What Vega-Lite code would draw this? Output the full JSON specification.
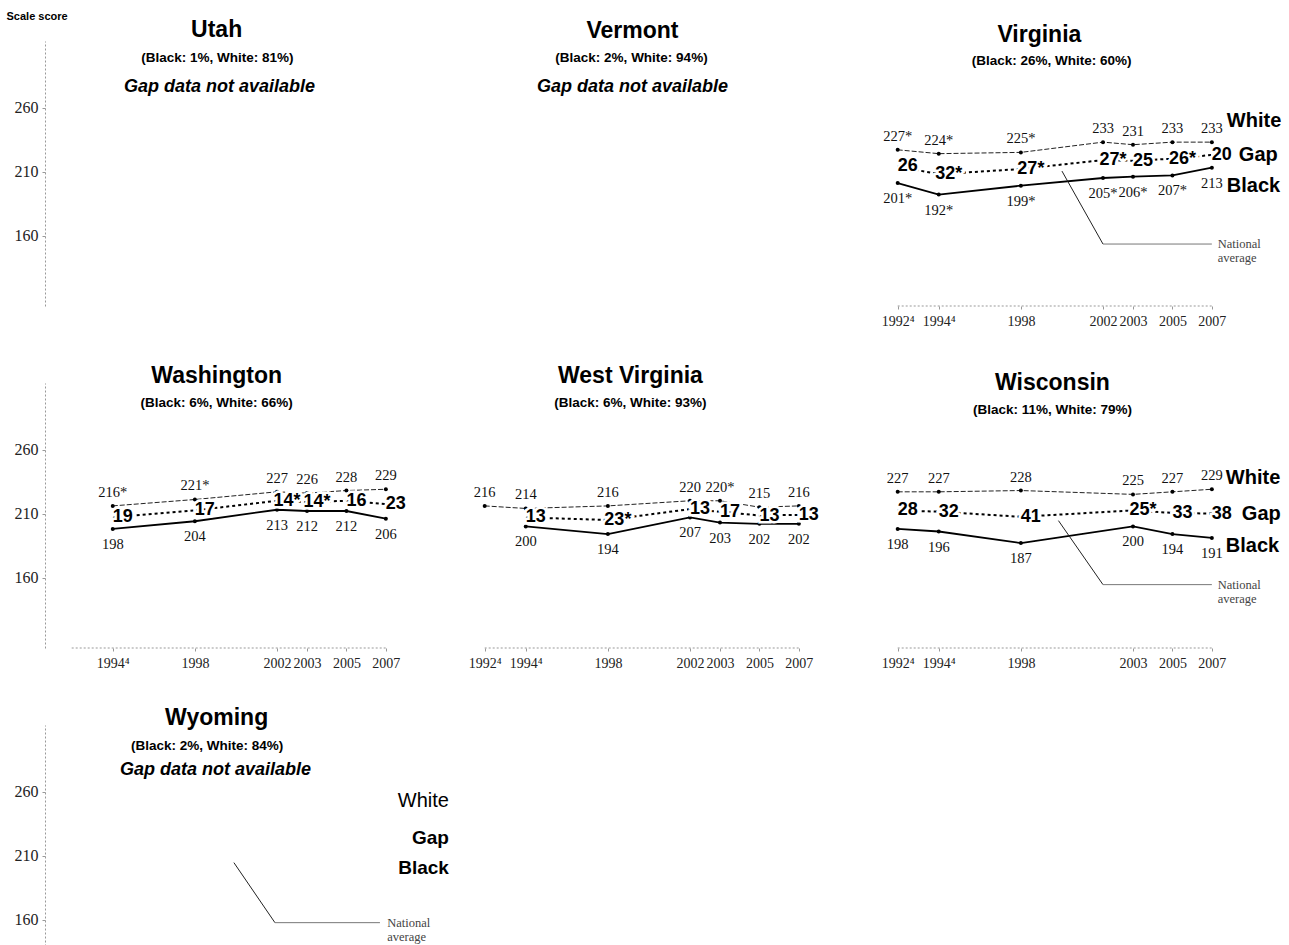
{
  "$schema": "https://vega.github.io/schema/vega-lite/v6.json",
  "padding": {"left": 6, "top": 10, "right": 5, "bottom": 5},
  "background": "white",
  "config": {
    "view": {"stroke": null},
    "font": "Liberation Sans",
    "text": {"font": "Liberation Serif", "fontSize": 14.5, "color": "#111"}
  },
  "datasets": {
    "scores": [
      {"state": "Virginia", "year": 1992, "white": 227, "black": 201, "wl": "227*", "bl": "201*", "gap": "26"},
      {"state": "Virginia", "year": 1994, "white": 224, "black": 192, "wl": "224*", "bl": "192*", "gap": "32*"},
      {"state": "Virginia", "year": 1998, "white": 225, "black": 199, "wl": "225*", "bl": "199*", "gap": "27*"},
      {"state": "Virginia", "year": 2002, "white": 233, "black": 205, "wl": "233", "bl": "205*", "gap": "27*"},
      {"state": "Virginia", "year": 2003, "white": 231, "black": 206, "wl": "231", "bl": "206*", "gap": "25"},
      {"state": "Virginia", "year": 2005, "white": 233, "black": 207, "wl": "233", "bl": "207*", "gap": "26*"},
      {"state": "Virginia", "year": 2007, "white": 233, "black": 213, "wl": "233", "bl": "213", "gap": "20"},
      {"state": "Washington", "year": 1994, "white": 216, "black": 198, "wl": "216*", "bl": "198", "gap": "19"},
      {"state": "Washington", "year": 1998, "white": 221, "black": 204, "wl": "221*", "bl": "204", "gap": "17"},
      {"state": "Washington", "year": 2002, "white": 227, "black": 213, "wl": "227", "bl": "213", "gap": "14*"},
      {"state": "Washington", "year": 2003, "white": 226, "black": 212, "wl": "226", "bl": "212", "gap": "14*"},
      {"state": "Washington", "year": 2005, "white": 228, "black": 212, "wl": "228", "bl": "212", "gap": "16"},
      {"state": "Washington", "year": 2007, "white": 229, "black": 206, "wl": "229", "bl": "206", "gap": "23"},
      {"state": "West Virginia", "year": 1992, "white": 216, "black": null, "wl": "216", "bl": null, "gap": null},
      {"state": "West Virginia", "year": 1994, "white": 214, "black": 200, "wl": "214", "bl": "200", "gap": "13"},
      {"state": "West Virginia", "year": 1998, "white": 216, "black": 194, "wl": "216", "bl": "194", "gap": "23*"},
      {"state": "West Virginia", "year": 2002, "white": 220, "black": 207, "wl": "220", "bl": "207", "gap": "13"},
      {"state": "West Virginia", "year": 2003, "white": 220, "black": 203, "wl": "220*", "bl": "203", "gap": "17"},
      {"state": "West Virginia", "year": 2005, "white": 215, "black": 202, "wl": "215", "bl": "202", "gap": "13"},
      {"state": "West Virginia", "year": 2007, "white": 216, "black": 202, "wl": "216", "bl": "202", "gap": "13"},
      {"state": "Wisconsin", "year": 1992, "white": 227, "black": 198, "wl": "227", "bl": "198", "gap": "28"},
      {"state": "Wisconsin", "year": 1994, "white": 227, "black": 196, "wl": "227", "bl": "196", "gap": "32"},
      {"state": "Wisconsin", "year": 1998, "white": 228, "black": 187, "wl": "228", "bl": "187", "gap": "41"},
      {"state": "Wisconsin", "year": 2003, "white": 225, "black": 200, "wl": "225", "bl": "200", "gap": "25*"},
      {"state": "Wisconsin", "year": 2005, "white": 227, "black": 194, "wl": "227", "bl": "194", "gap": "33"},
      {"state": "Wisconsin", "year": 2007, "white": 229, "black": 191, "wl": "229", "bl": "191", "gap": "38"}
    ]
  },
  "columns": 3,
  "spacing": {"row": 77, "column": 13},
  "bounds": "flush",
  "concat": [
    {
      "width": 400, "height": 265,
      "resolve": {"axis": {"x": "independent", "y": "independent"}},
      "layer": [
        {"data": {"values": [{}]}, "mark": {"type": "text", "text": "Utah", "font": "Liberation Sans", "fontSize": 23, "fontWeight": "bold", "color": "#000"},
         "encoding": {
           "x": {"datum": 1999.06, "type": "quantitative", "scale": {"domain": [1990.7, 2002, 2003, 2010], "range": [0, 232, 262, 400], "nice": false, "zero": false}, "axis": null},
           "y": {"datum": 320.6, "type": "quantitative", "scale": {"domain": [105, 312], "nice": false, "zero": false},
                 "axis": {"values": [160, 210, 260], "title": "Scale score", "titleAngle": 0, "titleAlign": "left", "titleBaseline": "middle", "titleX": -39, "titleY": -25, "titleFont": "Liberation Sans", "titleFontSize": 11, "titleFontWeight": "bold", "titleColor": "#000", "grid": false, "domain": true, "domainColor": "#999", "domainDash": [2, 2], "domainWidth": 1, "ticks": true, "tickSize": 3, "tickColor": "#999", "labelFont": "Liberation Serif", "labelFontSize": 16, "labelColor": "#222", "labelPadding": 4}}}},
        {"data": {"values": [{}]}, "mark": {"type": "text", "text": "(Black: 1%, White: 81%)", "font": "Liberation Sans", "fontSize": 13.5, "fontWeight": "bold", "color": "#000"},
         "encoding": {"x": {"datum": 1999.1, "type": "quantitative", "axis": null}, "y": {"datum": 298.7, "type": "quantitative", "axis": null}}},
        {"data": {"values": [{}]}, "mark": {"type": "text", "text": "Gap data not available", "font": "Liberation Sans", "fontSize": 18, "fontWeight": "bold", "fontStyle": "italic", "color": "#000"},
         "encoding": {"x": {"datum": 1999.2, "type": "quantitative", "axis": null}, "y": {"datum": 276, "type": "quantitative", "axis": null}}}
      ]
    },
    {
      "width": 400, "height": 265,
      "resolve": {"axis": {"x": "independent", "y": "independent"}},
      "layer": [
        {"data": {"values": [{}]}, "mark": {"type": "text", "text": "Vermont", "font": "Liberation Sans", "fontSize": 23, "fontWeight": "bold", "color": "#000"},
         "encoding": {
           "x": {"datum": 1999.2, "type": "quantitative", "scale": {"domain": [1990.7, 2002, 2003, 2010], "range": [0, 232, 262, 400], "nice": false, "zero": false}, "axis": null},
           "y": {"datum": 320, "type": "quantitative", "scale": {"domain": [105, 312], "nice": false, "zero": false}, "axis": null}}},
        {"data": {"values": [{}]}, "mark": {"type": "text", "text": "(Black: 2%, White: 94%)", "font": "Liberation Sans", "fontSize": 13.5, "fontWeight": "bold", "color": "#000"},
         "encoding": {"x": {"datum": 1999.15, "type": "quantitative", "axis": null}, "y": {"datum": 298.7, "type": "quantitative", "axis": null}}},
        {"data": {"values": [{}]}, "mark": {"type": "text", "text": "Gap data not available", "font": "Liberation Sans", "fontSize": 18, "fontWeight": "bold", "fontStyle": "italic", "color": "#000"},
         "encoding": {"x": {"datum": 1999.2, "type": "quantitative", "axis": null}, "y": {"datum": 276, "type": "quantitative", "axis": null}}}
      ]
    },
    {
      "width": 400, "height": 265,
      "resolve": {"axis": {"x": "independent", "y": "independent"}},
      "layer": [
        {"data": {"values": [{}]}, "mark": {"type": "rule", "color": "#999", "strokeDash": [2, 2], "strokeWidth": 1},
         "encoding": {
           "x": {"datum": 1992, "type": "quantitative", "scale": {"domain": [1990.7, 2002, 2003, 2010], "range": [0, 232, 262, 400], "nice": false, "zero": false},
                 "axis": {"values": [1992, 1994, 1998, 2002, 2003, 2005, 2007], "format": "d", "title": null, "grid": false, "domain": false, "ticks": true, "tickSize": 3, "tickColor": "#999", "labelFont": "Liberation Serif", "labelFontSize": 14, "labelColor": "#222", "labelPadding": 5, "labelOverlap": false, "labelFlush": false, "labelExpr": "datum.value == 1992 ? '1992⁴' : datum.value == 1994 ? '1994⁴' : datum.label"}},
           "x2": {"datum": 2007},
           "y": {"datum": 105, "type": "quantitative", "scale": {"domain": [105, 312], "nice": false, "zero": false}, "axis": null}}},
        {"data": {"values": [{}]}, "mark": {"type": "text", "text": "Virginia", "font": "Liberation Sans", "fontSize": 23, "fontWeight": "bold", "color": "#000"},
         "encoding": {"x": {"datum": 1998.9, "type": "quantitative", "axis": null}, "y": {"datum": 316.7, "type": "quantitative", "axis": null}}},
        {"data": {"values": [{}]}, "mark": {"type": "text", "text": "(Black: 26%, White: 60%)", "font": "Liberation Sans", "fontSize": 13.5, "fontWeight": "bold", "color": "#000"},
         "encoding": {"x": {"datum": 1999.5, "type": "quantitative", "axis": null}, "y": {"datum": 296, "type": "quantitative", "axis": null}}},
        {"data": {"name": "scores"}, "transform": [{"filter": "datum.state == 'Virginia'"}],
         "mark": {"type": "line", "color": "#222", "strokeWidth": 1, "strokeDash": [5, 2]},
         "encoding": {"x": {"field": "year", "type": "quantitative", "axis": null}, "y": {"field": "white", "type": "quantitative", "axis": null}}},
        {"data": {"name": "scores"}, "transform": [{"filter": "datum.state == 'Virginia' && datum.black != null"}],
         "mark": {"type": "line", "color": "#000", "strokeWidth": 1.8},
         "encoding": {"x": {"field": "year", "type": "quantitative", "axis": null}, "y": {"field": "black", "type": "quantitative", "axis": null}}},
        {"data": {"name": "scores"}, "transform": [{"filter": "datum.state == 'Virginia' && datum.gap != null"}, {"fold": ["white", "black"], "as": ["grp", "score"]}],
         "mark": {"type": "line", "color": "#000", "strokeWidth": 2, "strokeDash": [3, 3]},
         "encoding": {"x": {"field": "year", "type": "quantitative", "axis": null}, "y": {"aggregate": "mean", "field": "score", "type": "quantitative", "axis": null}}},
        {"data": {"name": "scores"}, "transform": [{"filter": "datum.state == 'Virginia'"}, {"fold": ["white", "black"], "as": ["grp", "score"]}, {"filter": "datum.score != null"}],
         "mark": {"type": "point", "filled": true, "color": "#000", "size": 16, "opacity": 1},
         "encoding": {"x": {"field": "year", "type": "quantitative", "axis": null}, "y": {"field": "score", "type": "quantitative", "axis": null}}},
        {"data": {"name": "scores"}, "transform": [{"filter": "datum.state == 'Virginia'"}],
         "mark": {"type": "text", "dy": -13},
         "encoding": {"x": {"field": "year", "type": "quantitative", "axis": null}, "y": {"field": "white", "type": "quantitative", "axis": null}, "text": {"field": "wl"}}},
        {"data": {"name": "scores"}, "transform": [{"filter": "datum.state == 'Virginia' && datum.black != null"}],
         "mark": {"type": "text", "dy": 16},
         "encoding": {"x": {"field": "year", "type": "quantitative", "axis": null}, "y": {"field": "black", "type": "quantitative", "axis": null}, "text": {"field": "bl"}}},
        {"data": {"name": "scores"}, "transform": [{"filter": "datum.state == 'Virginia' && datum.gap != null"}, {"fold": ["white", "black"], "as": ["grp", "score"]}],
         "mark": {"type": "text", "dx": 10, "font": "Liberation Sans", "fontWeight": "bold", "fontSize": 18, "fill": "#fff", "stroke": "#fff", "strokeWidth": 5},
         "encoding": {"x": {"field": "year", "type": "quantitative", "axis": null}, "y": {"aggregate": "mean", "field": "score", "type": "quantitative", "axis": null}, "text": {"field": "gap"}}},
        {"data": {"name": "scores"}, "transform": [{"filter": "datum.state == 'Virginia' && datum.gap != null"}, {"fold": ["white", "black"], "as": ["grp", "score"]}],
         "mark": {"type": "text", "dx": 10, "font": "Liberation Sans", "fontWeight": "bold", "fontSize": 18, "fill": "#000"},
         "encoding": {"x": {"field": "year", "type": "quantitative", "axis": null}, "y": {"aggregate": "mean", "field": "score", "type": "quantitative", "axis": null}, "text": {"field": "gap"}}},
        {"data": {"name": "scores"}, "transform": [{"filter": "datum.state == 'Virginia' && datum.year == 2007"}],
         "mark": {"type": "text", "text": "White", "font": "Liberation Sans", "fontWeight": "bold", "fontSize": 20, "align": "left", "dx": 15, "dy": -21, "color": "#000"},
         "encoding": {"x": {"field": "year", "type": "quantitative", "axis": null}, "y": {"field": "white", "type": "quantitative", "axis": null}}},
        {"data": {"name": "scores"}, "transform": [{"filter": "datum.state == 'Virginia' && datum.year == 2007"}, {"fold": ["white", "black"], "as": ["grp", "score"]}],
         "mark": {"type": "text", "text": "Gap", "font": "Liberation Sans", "fontWeight": "bold", "fontSize": 20, "align": "left", "dx": 27, "color": "#000"},
         "encoding": {"x": {"field": "year", "type": "quantitative", "axis": null}, "y": {"aggregate": "mean", "field": "score", "type": "quantitative", "axis": null}}},
        {"data": {"name": "scores"}, "transform": [{"filter": "datum.state == 'Virginia' && datum.year == 2007"}],
         "mark": {"type": "text", "text": "Black", "font": "Liberation Sans", "fontWeight": "bold", "fontSize": 20, "align": "left", "dx": 15, "dy": 18, "color": "#000"},
         "encoding": {"x": {"field": "year", "type": "quantitative", "axis": null}, "y": {"field": "black", "type": "quantitative", "axis": null}}},
        {"data": {"values": [{}]}, "mark": {"type": "rule", "color": "#222", "strokeWidth": 1},
         "encoding": {"x": {"datum": 2000, "type": "quantitative", "axis": null}, "y": {"datum": 210.4, "type": "quantitative", "axis": null}, "x2": {"datum": 2002}, "y2": {"datum": 153.4}}},
        {"data": {"values": [{}]}, "mark": {"type": "rule", "color": "#777", "strokeWidth": 1},
         "encoding": {"x": {"datum": 2002, "type": "quantitative", "axis": null}, "x2": {"datum": 2007}, "y": {"datum": 153.4, "type": "quantitative", "axis": null}}},
        {"data": {"values": [{}]}, "mark": {"type": "text", "text": ["National", "average"], "align": "left", "baseline": "top", "lineHeight": 14, "fontSize": 12.5, "color": "#444"},
         "encoding": {"x": {"datum": 2007.3, "type": "quantitative", "axis": null}, "y": {"datum": 158, "type": "quantitative", "axis": null}}}
      ]
    },
    {
      "width": 400, "height": 265,
      "resolve": {"axis": {"x": "independent", "y": "independent"}},
      "layer": [
        {"data": {"values": [{}]}, "mark": {"type": "rule", "color": "#999", "strokeDash": [2, 2], "strokeWidth": 1},
         "encoding": {
           "x": {"datum": 1992, "type": "quantitative", "scale": {"domain": [1990.7, 2002, 2003, 2010], "range": [0, 232, 262, 400], "nice": false, "zero": false},
                 "axis": {"values": [1994, 1998, 2002, 2003, 2005, 2007], "format": "d", "title": null, "grid": false, "domain": false, "ticks": true, "tickSize": 3, "tickColor": "#999", "labelFont": "Liberation Serif", "labelFontSize": 14, "labelColor": "#222", "labelPadding": 5, "labelOverlap": false, "labelFlush": false, "labelExpr": "datum.value == 1992 ? '1992⁴' : datum.value == 1994 ? '1994⁴' : datum.label"}},
           "x2": {"datum": 2007},
           "y": {"datum": 105, "type": "quantitative", "scale": {"domain": [105, 312], "nice": false, "zero": false},
                 "axis": {"values": [160, 210, 260], "title": null, "grid": false, "domain": true, "domainColor": "#999", "domainDash": [2, 2], "domainWidth": 1, "ticks": true, "tickSize": 3, "tickColor": "#999", "labelFont": "Liberation Serif", "labelFontSize": 16, "labelColor": "#222", "labelPadding": 4}}}},
        {"data": {"values": [{}]}, "mark": {"type": "text", "text": "Washington", "font": "Liberation Sans", "fontSize": 23, "fontWeight": "bold", "color": "#000"},
         "encoding": {"x": {"datum": 1999.06, "type": "quantitative", "axis": null}, "y": {"datum": 317.8, "type": "quantitative", "axis": null}}},
        {"data": {"values": [{}]}, "mark": {"type": "text", "text": "(Black: 6%, White: 66%)", "font": "Liberation Sans", "fontSize": 13.5, "fontWeight": "bold", "color": "#000"},
         "encoding": {"x": {"datum": 1999.06, "type": "quantitative", "axis": null}, "y": {"datum": 296.7, "type": "quantitative", "axis": null}}},
        {"data": {"name": "scores"}, "transform": [{"filter": "datum.state == 'Washington'"}],
         "mark": {"type": "line", "color": "#222", "strokeWidth": 1, "strokeDash": [5, 2]},
         "encoding": {"x": {"field": "year", "type": "quantitative", "axis": null}, "y": {"field": "white", "type": "quantitative", "axis": null}}},
        {"data": {"name": "scores"}, "transform": [{"filter": "datum.state == 'Washington' && datum.black != null"}],
         "mark": {"type": "line", "color": "#000", "strokeWidth": 1.8},
         "encoding": {"x": {"field": "year", "type": "quantitative", "axis": null}, "y": {"field": "black", "type": "quantitative", "axis": null}}},
        {"data": {"name": "scores"}, "transform": [{"filter": "datum.state == 'Washington' && datum.gap != null"}, {"fold": ["white", "black"], "as": ["grp", "score"]}],
         "mark": {"type": "line", "color": "#000", "strokeWidth": 2, "strokeDash": [3, 3]},
         "encoding": {"x": {"field": "year", "type": "quantitative", "axis": null}, "y": {"aggregate": "mean", "field": "score", "type": "quantitative", "axis": null}}},
        {"data": {"name": "scores"}, "transform": [{"filter": "datum.state == 'Washington'"}, {"fold": ["white", "black"], "as": ["grp", "score"]}, {"filter": "datum.score != null"}],
         "mark": {"type": "point", "filled": true, "color": "#000", "size": 16, "opacity": 1},
         "encoding": {"x": {"field": "year", "type": "quantitative", "axis": null}, "y": {"field": "score", "type": "quantitative", "axis": null}}},
        {"data": {"name": "scores"}, "transform": [{"filter": "datum.state == 'Washington'"}],
         "mark": {"type": "text", "dy": -13},
         "encoding": {"x": {"field": "year", "type": "quantitative", "axis": null}, "y": {"field": "white", "type": "quantitative", "axis": null}, "text": {"field": "wl"}}},
        {"data": {"name": "scores"}, "transform": [{"filter": "datum.state == 'Washington' && datum.black != null"}],
         "mark": {"type": "text", "dy": 16},
         "encoding": {"x": {"field": "year", "type": "quantitative", "axis": null}, "y": {"field": "black", "type": "quantitative", "axis": null}, "text": {"field": "bl"}}},
        {"data": {"name": "scores"}, "transform": [{"filter": "datum.state == 'Washington' && datum.gap != null"}, {"fold": ["white", "black"], "as": ["grp", "score"]}],
         "mark": {"type": "text", "dx": 10, "font": "Liberation Sans", "fontWeight": "bold", "fontSize": 18, "fill": "#fff", "stroke": "#fff", "strokeWidth": 5},
         "encoding": {"x": {"field": "year", "type": "quantitative", "axis": null}, "y": {"aggregate": "mean", "field": "score", "type": "quantitative", "axis": null}, "text": {"field": "gap"}}},
        {"data": {"name": "scores"}, "transform": [{"filter": "datum.state == 'Washington' && datum.gap != null"}, {"fold": ["white", "black"], "as": ["grp", "score"]}],
         "mark": {"type": "text", "dx": 10, "font": "Liberation Sans", "fontWeight": "bold", "fontSize": 18, "fill": "#000"},
         "encoding": {"x": {"field": "year", "type": "quantitative", "axis": null}, "y": {"aggregate": "mean", "field": "score", "type": "quantitative", "axis": null}, "text": {"field": "gap"}}}
      ]
    },
    {
      "width": 400, "height": 265,
      "resolve": {"axis": {"x": "independent", "y": "independent"}},
      "layer": [
        {"data": {"values": [{}]}, "mark": {"type": "rule", "color": "#999", "strokeDash": [2, 2], "strokeWidth": 1},
         "encoding": {
           "x": {"datum": 1992, "type": "quantitative", "scale": {"domain": [1990.7, 2002, 2003, 2010], "range": [0, 232, 262, 400], "nice": false, "zero": false},
                 "axis": {"values": [1992, 1994, 1998, 2002, 2003, 2005, 2007], "format": "d", "title": null, "grid": false, "domain": false, "ticks": true, "tickSize": 3, "tickColor": "#999", "labelFont": "Liberation Serif", "labelFontSize": 14, "labelColor": "#222", "labelPadding": 5, "labelOverlap": false, "labelFlush": false, "labelExpr": "datum.value == 1992 ? '1992⁴' : datum.value == 1994 ? '1994⁴' : datum.label"}},
           "x2": {"datum": 2007},
           "y": {"datum": 105, "type": "quantitative", "scale": {"domain": [105, 312], "nice": false, "zero": false}, "axis": null}}},
        {"data": {"values": [{}]}, "mark": {"type": "text", "text": "West Virginia", "font": "Liberation Sans", "fontSize": 23, "fontWeight": "bold", "color": "#000"},
         "encoding": {"x": {"datum": 1999.1, "type": "quantitative", "axis": null}, "y": {"datum": 317.8, "type": "quantitative", "axis": null}}},
        {"data": {"values": [{}]}, "mark": {"type": "text", "text": "(Black: 6%, White: 93%)", "font": "Liberation Sans", "fontSize": 13.5, "fontWeight": "bold", "color": "#000"},
         "encoding": {"x": {"datum": 1999.1, "type": "quantitative", "axis": null}, "y": {"datum": 296.7, "type": "quantitative", "axis": null}}},
        {"data": {"name": "scores"}, "transform": [{"filter": "datum.state == 'West Virginia'"}],
         "mark": {"type": "line", "color": "#222", "strokeWidth": 1, "strokeDash": [5, 2]},
         "encoding": {"x": {"field": "year", "type": "quantitative", "axis": null}, "y": {"field": "white", "type": "quantitative", "axis": null}}},
        {"data": {"name": "scores"}, "transform": [{"filter": "datum.state == 'West Virginia' && datum.black != null"}],
         "mark": {"type": "line", "color": "#000", "strokeWidth": 1.8},
         "encoding": {"x": {"field": "year", "type": "quantitative", "axis": null}, "y": {"field": "black", "type": "quantitative", "axis": null}}},
        {"data": {"name": "scores"}, "transform": [{"filter": "datum.state == 'West Virginia' && datum.gap != null"}, {"fold": ["white", "black"], "as": ["grp", "score"]}],
         "mark": {"type": "line", "color": "#000", "strokeWidth": 2, "strokeDash": [3, 3]},
         "encoding": {"x": {"field": "year", "type": "quantitative", "axis": null}, "y": {"aggregate": "mean", "field": "score", "type": "quantitative", "axis": null}}},
        {"data": {"name": "scores"}, "transform": [{"filter": "datum.state == 'West Virginia'"}, {"fold": ["white", "black"], "as": ["grp", "score"]}, {"filter": "datum.score != null"}],
         "mark": {"type": "point", "filled": true, "color": "#000", "size": 16, "opacity": 1},
         "encoding": {"x": {"field": "year", "type": "quantitative", "axis": null}, "y": {"field": "score", "type": "quantitative", "axis": null}}},
        {"data": {"name": "scores"}, "transform": [{"filter": "datum.state == 'West Virginia'"}],
         "mark": {"type": "text", "dy": -13},
         "encoding": {"x": {"field": "year", "type": "quantitative", "axis": null}, "y": {"field": "white", "type": "quantitative", "axis": null}, "text": {"field": "wl"}}},
        {"data": {"name": "scores"}, "transform": [{"filter": "datum.state == 'West Virginia' && datum.black != null"}],
         "mark": {"type": "text", "dy": 16},
         "encoding": {"x": {"field": "year", "type": "quantitative", "axis": null}, "y": {"field": "black", "type": "quantitative", "axis": null}, "text": {"field": "bl"}}},
        {"data": {"name": "scores"}, "transform": [{"filter": "datum.state == 'West Virginia' && datum.gap != null"}, {"fold": ["white", "black"], "as": ["grp", "score"]}],
         "mark": {"type": "text", "dx": 10, "font": "Liberation Sans", "fontWeight": "bold", "fontSize": 18, "fill": "#fff", "stroke": "#fff", "strokeWidth": 5},
         "encoding": {"x": {"field": "year", "type": "quantitative", "axis": null}, "y": {"aggregate": "mean", "field": "score", "type": "quantitative", "axis": null}, "text": {"field": "gap"}}},
        {"data": {"name": "scores"}, "transform": [{"filter": "datum.state == 'West Virginia' && datum.gap != null"}, {"fold": ["white", "black"], "as": ["grp", "score"]}],
         "mark": {"type": "text", "dx": 10, "font": "Liberation Sans", "fontWeight": "bold", "fontSize": 18, "fill": "#000"},
         "encoding": {"x": {"field": "year", "type": "quantitative", "axis": null}, "y": {"aggregate": "mean", "field": "score", "type": "quantitative", "axis": null}, "text": {"field": "gap"}}}
      ]
    },
    {
      "width": 400, "height": 265,
      "resolve": {"axis": {"x": "independent", "y": "independent"}},
      "layer": [
        {"data": {"values": [{}]}, "mark": {"type": "rule", "color": "#999", "strokeDash": [2, 2], "strokeWidth": 1},
         "encoding": {
           "x": {"datum": 1992, "type": "quantitative", "scale": {"domain": [1990.7, 2002, 2003, 2010], "range": [0, 232, 262, 400], "nice": false, "zero": false},
                 "axis": {"values": [1992, 1994, 1998, 2003, 2005, 2007], "format": "d", "title": null, "grid": false, "domain": false, "ticks": true, "tickSize": 3, "tickColor": "#999", "labelFont": "Liberation Serif", "labelFontSize": 14, "labelColor": "#222", "labelPadding": 5, "labelOverlap": false, "labelFlush": false, "labelExpr": "datum.value == 1992 ? '1992⁴' : datum.value == 1994 ? '1994⁴' : datum.label"}},
           "x2": {"datum": 2007},
           "y": {"datum": 105, "type": "quantitative", "scale": {"domain": [105, 312], "nice": false, "zero": false}, "axis": null}}},
        {"data": {"values": [{}]}, "mark": {"type": "text", "text": "Wisconsin", "font": "Liberation Sans", "fontSize": 23, "fontWeight": "bold", "color": "#000"},
         "encoding": {"x": {"datum": 1999.54, "type": "quantitative", "axis": null}, "y": {"datum": 312.3, "type": "quantitative", "axis": null}}},
        {"data": {"values": [{}]}, "mark": {"type": "text", "text": "(Black: 11%, White: 79%)", "font": "Liberation Sans", "fontSize": 13.5, "fontWeight": "bold", "color": "#000"},
         "encoding": {"x": {"datum": 1999.54, "type": "quantitative", "axis": null}, "y": {"datum": 291.2, "type": "quantitative", "axis": null}}},
        {"data": {"name": "scores"}, "transform": [{"filter": "datum.state == 'Wisconsin'"}],
         "mark": {"type": "line", "color": "#222", "strokeWidth": 1, "strokeDash": [5, 2]},
         "encoding": {"x": {"field": "year", "type": "quantitative", "axis": null}, "y": {"field": "white", "type": "quantitative", "axis": null}}},
        {"data": {"name": "scores"}, "transform": [{"filter": "datum.state == 'Wisconsin' && datum.black != null"}],
         "mark": {"type": "line", "color": "#000", "strokeWidth": 1.8},
         "encoding": {"x": {"field": "year", "type": "quantitative", "axis": null}, "y": {"field": "black", "type": "quantitative", "axis": null}}},
        {"data": {"name": "scores"}, "transform": [{"filter": "datum.state == 'Wisconsin' && datum.gap != null"}, {"fold": ["white", "black"], "as": ["grp", "score"]}],
         "mark": {"type": "line", "color": "#000", "strokeWidth": 2, "strokeDash": [3, 3]},
         "encoding": {"x": {"field": "year", "type": "quantitative", "axis": null}, "y": {"aggregate": "mean", "field": "score", "type": "quantitative", "axis": null}}},
        {"data": {"name": "scores"}, "transform": [{"filter": "datum.state == 'Wisconsin'"}, {"fold": ["white", "black"], "as": ["grp", "score"]}, {"filter": "datum.score != null"}],
         "mark": {"type": "point", "filled": true, "color": "#000", "size": 16, "opacity": 1},
         "encoding": {"x": {"field": "year", "type": "quantitative", "axis": null}, "y": {"field": "score", "type": "quantitative", "axis": null}}},
        {"data": {"name": "scores"}, "transform": [{"filter": "datum.state == 'Wisconsin'"}],
         "mark": {"type": "text", "dy": -13},
         "encoding": {"x": {"field": "year", "type": "quantitative", "axis": null}, "y": {"field": "white", "type": "quantitative", "axis": null}, "text": {"field": "wl"}}},
        {"data": {"name": "scores"}, "transform": [{"filter": "datum.state == 'Wisconsin' && datum.black != null"}],
         "mark": {"type": "text", "dy": 16},
         "encoding": {"x": {"field": "year", "type": "quantitative", "axis": null}, "y": {"field": "black", "type": "quantitative", "axis": null}, "text": {"field": "bl"}}},
        {"data": {"name": "scores"}, "transform": [{"filter": "datum.state == 'Wisconsin' && datum.gap != null"}, {"fold": ["white", "black"], "as": ["grp", "score"]}],
         "mark": {"type": "text", "dx": 10, "font": "Liberation Sans", "fontWeight": "bold", "fontSize": 18, "fill": "#fff", "stroke": "#fff", "strokeWidth": 5},
         "encoding": {"x": {"field": "year", "type": "quantitative", "axis": null}, "y": {"aggregate": "mean", "field": "score", "type": "quantitative", "axis": null}, "text": {"field": "gap"}}},
        {"data": {"name": "scores"}, "transform": [{"filter": "datum.state == 'Wisconsin' && datum.gap != null"}, {"fold": ["white", "black"], "as": ["grp", "score"]}],
         "mark": {"type": "text", "dx": 10, "font": "Liberation Sans", "fontWeight": "bold", "fontSize": 18, "fill": "#000"},
         "encoding": {"x": {"field": "year", "type": "quantitative", "axis": null}, "y": {"aggregate": "mean", "field": "score", "type": "quantitative", "axis": null}, "text": {"field": "gap"}}},
        {"data": {"name": "scores"}, "transform": [{"filter": "datum.state == 'Wisconsin' && datum.year == 2007"}],
         "mark": {"type": "text", "text": "White", "font": "Liberation Sans", "fontWeight": "bold", "fontSize": 20, "align": "left", "dx": 14, "dy": -11, "color": "#000"},
         "encoding": {"x": {"field": "year", "type": "quantitative", "axis": null}, "y": {"field": "white", "type": "quantitative", "axis": null}}},
        {"data": {"name": "scores"}, "transform": [{"filter": "datum.state == 'Wisconsin' && datum.year == 2007"}, {"fold": ["white", "black"], "as": ["grp", "score"]}],
         "mark": {"type": "text", "text": "Gap", "font": "Liberation Sans", "fontWeight": "bold", "fontSize": 20, "align": "left", "dx": 30, "color": "#000"},
         "encoding": {"x": {"field": "year", "type": "quantitative", "axis": null}, "y": {"aggregate": "mean", "field": "score", "type": "quantitative", "axis": null}}},
        {"data": {"name": "scores"}, "transform": [{"filter": "datum.state == 'Wisconsin' && datum.year == 2007"}],
         "mark": {"type": "text", "text": "Black", "font": "Liberation Sans", "fontWeight": "bold", "fontSize": 20, "align": "left", "dx": 14, "dy": 8, "color": "#000"},
         "encoding": {"x": {"field": "year", "type": "quantitative", "axis": null}, "y": {"field": "black", "type": "quantitative", "axis": null}}},
        {"data": {"values": [{}]}, "mark": {"type": "rule", "color": "#222", "strokeWidth": 1},
         "encoding": {"x": {"datum": 1999.83, "type": "quantitative", "axis": null}, "y": {"datum": 204.5, "type": "quantitative", "axis": null}, "x2": {"datum": 2002}, "y2": {"datum": 154.5}}},
        {"data": {"values": [{}]}, "mark": {"type": "rule", "color": "#777", "strokeWidth": 1},
         "encoding": {"x": {"datum": 2002, "type": "quantitative", "axis": null}, "x2": {"datum": 2007}, "y": {"datum": 154.5, "type": "quantitative", "axis": null}}},
        {"data": {"values": [{}]}, "mark": {"type": "text", "text": ["National", "average"], "align": "left", "baseline": "top", "lineHeight": 14, "fontSize": 12.5, "color": "#444"},
         "encoding": {"x": {"datum": 2007.3, "type": "quantitative", "axis": null}, "y": {"datum": 159.2, "type": "quantitative", "axis": null}}}
      ]
    },
    {
      "width": 400, "height": 265,
      "resolve": {"axis": {"x": "independent", "y": "independent"}},
      "layer": [
        {"data": {"values": [{}]}, "mark": {"type": "text", "text": "Wyoming", "font": "Liberation Sans", "fontSize": 23, "fontWeight": "bold", "color": "#000"},
         "encoding": {
           "x": {"datum": 1999.06, "type": "quantitative", "scale": {"domain": [1990.7, 2002, 2003, 2010], "range": [0, 232, 262, 400], "nice": false, "zero": false}, "axis": null},
           "y": {"datum": 317.8, "type": "quantitative", "scale": {"domain": [105, 312], "nice": false, "zero": false},
                 "axis": {"values": [160, 210, 260], "title": null, "grid": false, "domain": true, "domainColor": "#999", "domainDash": [2, 2], "domainWidth": 1, "ticks": true, "tickSize": 3, "tickColor": "#999", "labelFont": "Liberation Serif", "labelFontSize": 16, "labelColor": "#222", "labelPadding": 4}}}},
        {"data": {"values": [{}]}, "mark": {"type": "text", "text": "(Black: 2%, White: 84%)", "font": "Liberation Sans", "fontSize": 13.5, "fontWeight": "bold", "color": "#000"},
         "encoding": {"x": {"datum": 1998.6, "type": "quantitative", "axis": null}, "y": {"datum": 295.9, "type": "quantitative", "axis": null}}},
        {"data": {"values": [{}]}, "mark": {"type": "text", "text": "Gap data not available", "font": "Liberation Sans", "fontSize": 18, "fontWeight": "bold", "fontStyle": "italic", "color": "#000"},
         "encoding": {"x": {"datum": 1999, "type": "quantitative", "axis": null}, "y": {"datum": 276.5, "type": "quantitative", "axis": null}}},
        {"data": {"values": [{}]}, "mark": {"type": "text", "text": "White", "font": "Liberation Sans", "fontSize": 20, "align": "right", "color": "#000"},
         "encoding": {"x": {"datum": 2010.2, "type": "quantitative", "axis": null}, "y": {"datum": 253, "type": "quantitative", "axis": null}}},
        {"data": {"values": [{}]}, "mark": {"type": "text", "text": "Gap", "font": "Liberation Sans", "fontSize": 19, "fontWeight": "bold", "align": "right", "color": "#000"},
         "encoding": {"x": {"datum": 2010.2, "type": "quantitative", "axis": null}, "y": {"datum": 224, "type": "quantitative", "axis": null}}},
        {"data": {"values": [{}]}, "mark": {"type": "text", "text": "Black", "font": "Liberation Sans", "fontSize": 19, "fontWeight": "bold", "align": "right", "color": "#000"},
         "encoding": {"x": {"datum": 2010.2, "type": "quantitative", "axis": null}, "y": {"datum": 200, "type": "quantitative", "axis": null}}},
        {"data": {"values": [{}]}, "mark": {"type": "rule", "color": "#222", "strokeWidth": 1},
         "encoding": {"x": {"datum": 1999.9, "type": "quantitative", "axis": null}, "y": {"datum": 204.5, "type": "quantitative", "axis": null}, "x2": {"datum": 2001.9}, "y2": {"datum": 157.6}}},
        {"data": {"values": [{}]}, "mark": {"type": "rule", "color": "#777", "strokeWidth": 1},
         "encoding": {"x": {"datum": 2001.9, "type": "quantitative", "axis": null}, "x2": {"datum": 2006.7}, "y": {"datum": 157.6, "type": "quantitative", "axis": null}}},
        {"data": {"values": [{}]}, "mark": {"type": "text", "text": ["National", "average"], "align": "left", "baseline": "top", "lineHeight": 14, "fontSize": 12.5, "color": "#444"},
         "encoding": {"x": {"datum": 2007.07, "type": "quantitative", "axis": null}, "y": {"datum": 162.3, "type": "quantitative", "axis": null}}}
      ]
    }
  ]
}
